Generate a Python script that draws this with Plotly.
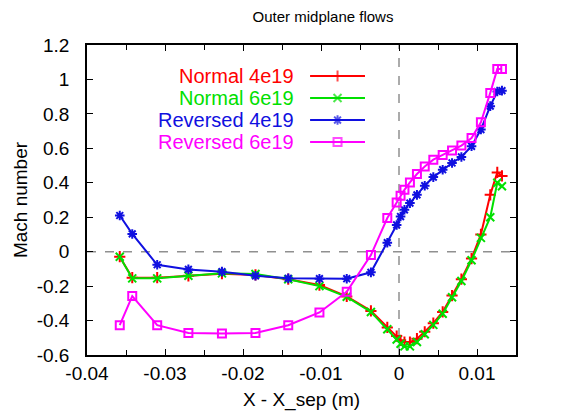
import plotly.graph_objects as go

# ---- data ----
x_pos = [-0.0358, -0.0342, -0.0310, -0.0270, -0.0227, -0.0184, -0.0142, -0.0102,
         -0.0067, -0.0036, -0.0015, -0.0003, 0.0002, 0.0007, 0.0014, 0.0023,
         0.0033, 0.0044, 0.0056, 0.0068, 0.0080, 0.0093, 0.0105, 0.0117,
         0.0126, 0.0132]

normal_4e19 = [-0.029, -0.151, -0.151, -0.140, -0.128, -0.135, -0.160, -0.194,
               -0.260, -0.344, -0.440, -0.490, -0.515, -0.525, -0.525, -0.505,
               -0.465, -0.415, -0.350, -0.255, -0.160, -0.040, 0.100, 0.330,
               0.460, 0.440]

normal_6e19 = [-0.030, -0.155, -0.155, -0.140, -0.126, -0.130, -0.160, -0.200,
               -0.262, -0.350, -0.450, -0.510, -0.535, -0.550, -0.550, -0.525,
               -0.480, -0.425, -0.360, -0.265, -0.170, -0.050, 0.080, 0.200,
               0.400, 0.380]

reversed_4e19 = [0.210, 0.103, -0.076, -0.103, -0.116, -0.140, -0.155, -0.157,
                 -0.157, -0.120, 0.052, 0.155, 0.204, 0.243, 0.282, 0.330,
                 0.383, 0.433, 0.476, 0.515, 0.550, 0.612, 0.709, 0.845,
                 0.930, 0.935]

reversed_6e19 = [-0.427, -0.258, -0.427, -0.472, -0.475, -0.472, -0.427, -0.353,
                 -0.233, -0.020, 0.195, 0.285, 0.324, 0.359, 0.402, 0.451,
                 0.495, 0.534, 0.562, 0.587, 0.616, 0.660, 0.751, 0.922,
                 1.060, 1.060]

series_names = ["Normal 4e19", "Normal 6e19", "Reversed 4e19", "Reversed 6e19"]
series_values = [normal_4e19, normal_6e19, reversed_4e19, reversed_6e19]

x_tickvals = [-0.04, -0.03, -0.02, -0.01, 0, 0.01]
x_ticktext = ["-0.04", "-0.03", "-0.02", "-0.01", "0", "0.01"]
y_tickvals = [1.2, 1.0, 0.8, 0.6, 0.4, 0.2, 0, -0.2, -0.4, -0.6]
y_ticktext = ["1.2", "1", "0.8", "0.6", "0.4", "0.2", "0", "-0.2", "-0.4", "-0.6"]

title_text = "Outer midplane flows"
x_title = "X - X_sep (m)"
y_title = "Mach number"

# ---- styles ----
colors = ["#ff0000", "#00e000", "#1010e0", "#ff00ff"]
symbols = ["cross-thin-open", "x-thin-open", "asterisk-open", "square-open"]
msizes = [8, 8, 8, 8]
FONT = "Liberation Sans, Arial, Helvetica, sans-serif"

fig = go.Figure()

for name, vals, c, s, ms in zip(series_names, series_values, colors, symbols, msizes):
    fig.add_trace(go.Scatter(
        x=x_pos, y=vals, mode="lines+markers", name=name,
        line=dict(color=c, width=2),
        marker=dict(symbol=s, size=ms, color=c, line=dict(color=c, width=2)),
        showlegend=False, xaxis="x", yaxis="y"))

# ---- gnuplot-style key: text right-aligned, sample to the right ----
key_rows = [0.90, 0.829, 0.758, 0.687]
for name, c, s, ms, ky in zip(series_names, colors, symbols, msizes, key_rows):
    fig.add_trace(go.Scatter(
        x=[0.52, 0.584, 0.648], y=[ky, ky, ky], mode="lines+markers",
        line=dict(color=c, width=2),
        marker=dict(symbol=s, size=[0, ms, 0], color=c, line=dict(color=c, width=2)),
        showlegend=False, hoverinfo="skip", xaxis="x2", yaxis="y2"))
    fig.add_annotation(x=0.488, y=ky, xref="x2", yref="y2", text=name,
                       showarrow=False, xanchor="right", yanchor="middle",
                       font=dict(family=FONT, size=20, color=c))

# dashed zero lines
fig.add_shape(type="line", xref="x", yref="paper", x0=0, x1=0, y0=0, y1=1,
              line=dict(color="#909090", width=1.5, dash="dash"), layer="below")
fig.add_shape(type="line", xref="paper", yref="y", x0=0, x1=1, y0=0, y1=0,
              line=dict(color="#909090", width=1.5, dash="dash"), layer="below")

axis_common = dict(showgrid=False, zeroline=False, showline=True, linecolor="black",
                   linewidth=1.5, mirror="allticks", ticks="inside", ticklen=6,
                   tickwidth=1, tickcolor="black",
                   tickfont=dict(family=FONT, size=19, color="black"))

fig.update_layout(
    width=581, height=420,
    margin=dict(l=87, r=65, t=45, b=65),
    paper_bgcolor="white", plot_bgcolor="white",
    title=dict(text=title_text, x=323 / 581, xanchor="center", y=1 - 17 / 420,
               yanchor="middle", font=dict(family=FONT, size=15, color="black")),
    xaxis=dict(range=[-0.04, 0.015], tickvals=x_tickvals, ticktext=x_ticktext,
               minor=dict(dtick=0.005, tick0=0, ticks="inside", ticklen=5,
                          tickcolor="black"),
               title=dict(text=x_title, font=dict(family=FONT, size=19, color="black"),
                          standoff=10),
               **axis_common),
    yaxis=dict(range=[-0.6, 1.2], tickvals=y_tickvals, ticktext=y_ticktext,
               title=dict(text=y_title, font=dict(family=FONT, size=19, color="black"),
                          standoff=4),
               ticklabelstandoff=12,
               **axis_common),
    xaxis2=dict(range=[0, 1], overlaying="x", visible=False, fixedrange=True),
    yaxis2=dict(range=[0, 1], overlaying="y", visible=False, fixedrange=True),
    showlegend=False,
)

fig.write_html("out.html")
